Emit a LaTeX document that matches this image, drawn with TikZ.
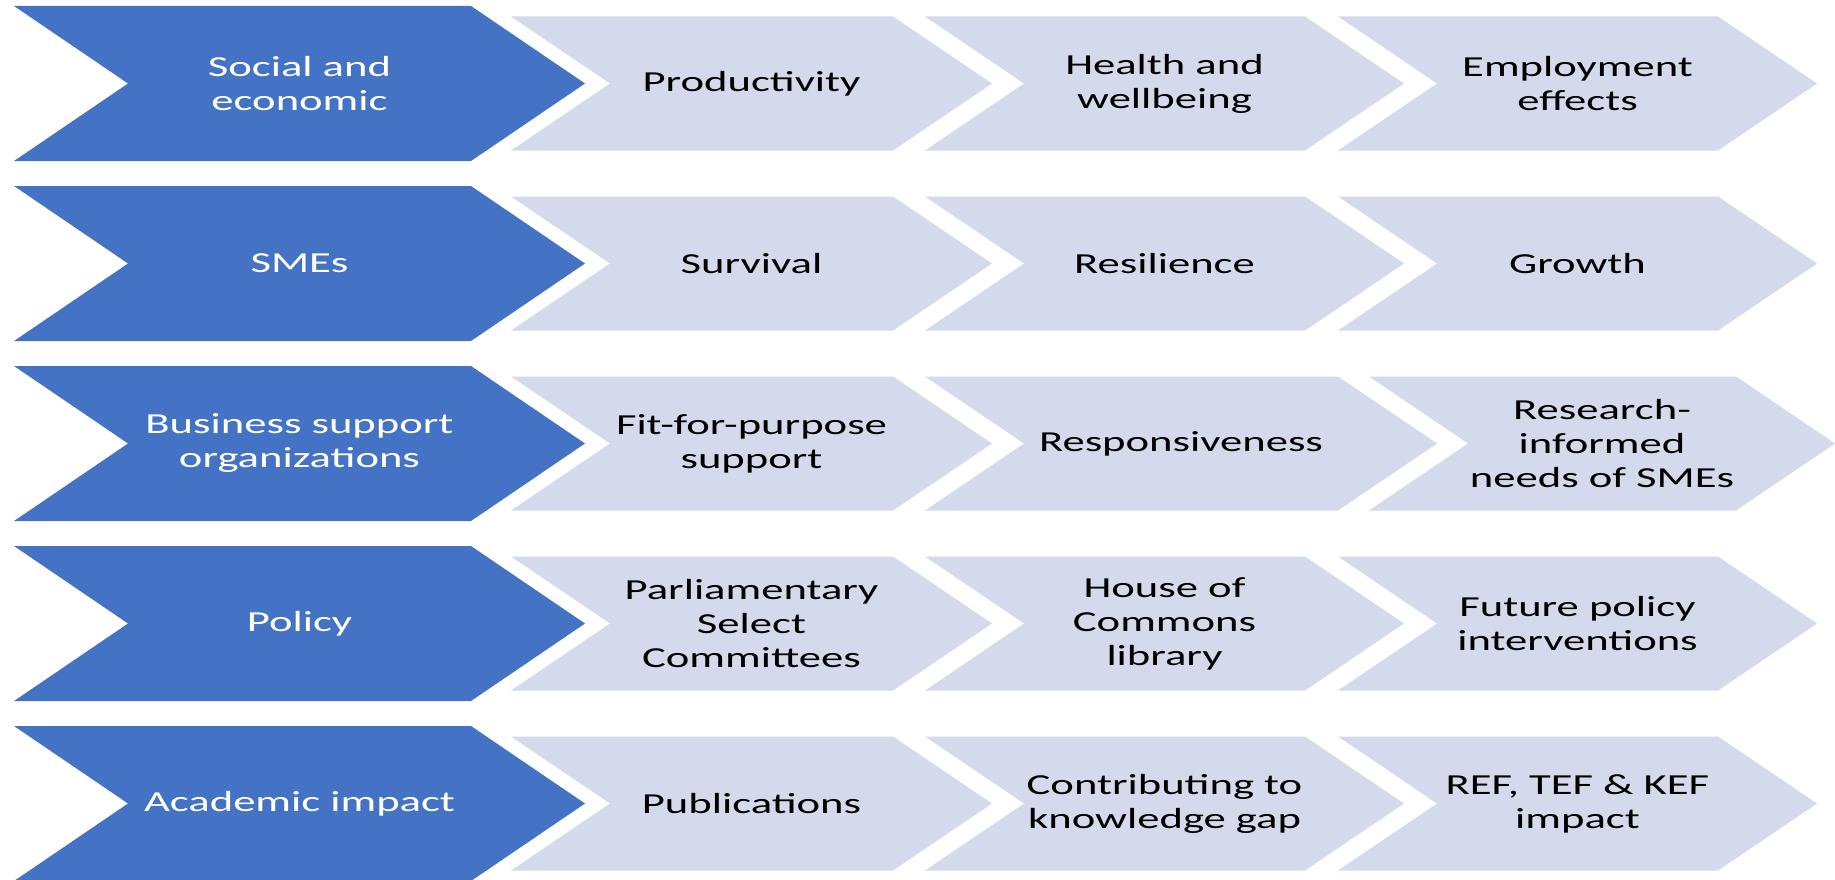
\documentclass[tikz,border=0pt]{standalone}
\usepackage{fontspec}
\setmainfont{Carlito}[FakeStretch=1.54]
\usepackage{tikz}

\definecolor{keyblue}{HTML}{4472C4}
\definecolor{stagegrey}{HTML}{D4D9EB}

% #1 style, #2 left, #3 tip, #4 mid, #5 half height, #6 point depth
\newcommand{\chevron}[6]{%
  \fill[#1] (#2,#4-#5) -- (#3-#6,#4-#5) -- (#3,#4) -- (#3-#6,#4+#5)
    -- (#2,#4+#5) -- (#2+#6,#4) -- cycle;}

\begin{document}
\begin{tikzpicture}[
        x=1pt, y=-1pt,
        keyshape/.style={fill=keyblue},
        stageshape/.style={fill=stagegrey},
        every node/.style={align=center, inner sep=0pt, font=\fontsize{29}{34}\selectfont},
        keytext/.style={text=white},
        stagetext/.style={text=black}
    ]

    \useasboundingbox (0,0) rectangle (1835,880);

    % row 1
    \chevron{keyshape}{14}{585}{83.5}{77.5}{114}
    \chevron{stageshape}{511}{992}{83.5}{67}{99}
    \chevron{stageshape}{925}{1404}{83.5}{67}{99}
    \chevron{stageshape}{1338}{1817}{83.5}{67}{99}
    \node[keytext] (soc) at (299.5,83.5) {Social and\\economic};
    \node[stagetext] (prod) at (751.5,83.5) {Productivity};
    \node[stagetext] (health) at (1164.5,83.5) {Health and\\wellbeing};
    \node[stagetext] (employ) at (1577.5,83.5) {Employment\\effects};

    % row 2
    \chevron{keyshape}{14}{585}{263.5}{77.5}{114}
    \chevron{stageshape}{511}{992}{263.5}{67}{99}
    \chevron{stageshape}{925}{1404}{263.5}{67}{99}
    \chevron{stageshape}{1338}{1817}{263.5}{67}{99}
    \node[keytext] (sme) at (299.5,263.5) {SMEs};
    \node[stagetext] (surv) at (751.5,263.5) {Survival};
    \node[stagetext] (resil) at (1164.5,263.5) {Resilience};
    \node[stagetext] (growth) at (1577.5,263.5) {Growth};

    % row 3
    \chevron{keyshape}{14}{585}{443.5}{77.5}{114}
    \chevron{stageshape}{511}{992}{443.5}{67}{99}
    \chevron{stageshape}{925}{1437}{443.5}{67}{99}
    \chevron{stageshape}{1369}{1835}{443.5}{67}{99}
    \node[keytext] (bso) at (299.5,443.5) {Business support\\organizations};
    \node[stagetext] (fit) at (751.5,443.5) {Fit-for-purpose\\support};
    \node[stagetext] (resp) at (1181,443.5) {Responsiveness};
    \node[stagetext] (needs) at (1602,443.5) {Research-\\informed\\needs of SMEs};

    % row 4
    \chevron{keyshape}{14}{585}{623.5}{77.5}{114}
    \chevron{stageshape}{511}{992}{623.5}{67}{99}
    \chevron{stageshape}{925}{1404}{623.5}{67}{99}
    \chevron{stageshape}{1338}{1817}{623.5}{67}{99}
    \node[keytext] (policy) at (299.5,623.5) {Policy};
    \node[stagetext] (parl) at (751.5,623.5) {Parliamentary\\Select\\Committees};
    \node[stagetext] (commons) at (1164.5,623.5) {House of\\Commons\\library};
    \node[stagetext] (future) at (1577.5,623.5) {Future policy\\interventions};

    % row 5
    \chevron{keyshape}{14}{585}{803.5}{77.5}{114}
    \chevron{stageshape}{511}{992}{803.5}{67}{99}
    \chevron{stageshape}{925}{1404}{803.5}{67}{99}
    \chevron{stageshape}{1338}{1817}{803.5}{67}{99}
    \node[keytext] (acad) at (299.5,803.5) {Academic impact};
    \node[stagetext] (pubs) at (751.5,803.5) {Publications};
    \node[stagetext] (gap) at (1164.5,803.5) {Contributing to\\knowledge gap};
    \node[stagetext] (ref) at (1577.5,803.5) {REF, TEF \& KEF\\impact};

\end{tikzpicture}
\end{document}
